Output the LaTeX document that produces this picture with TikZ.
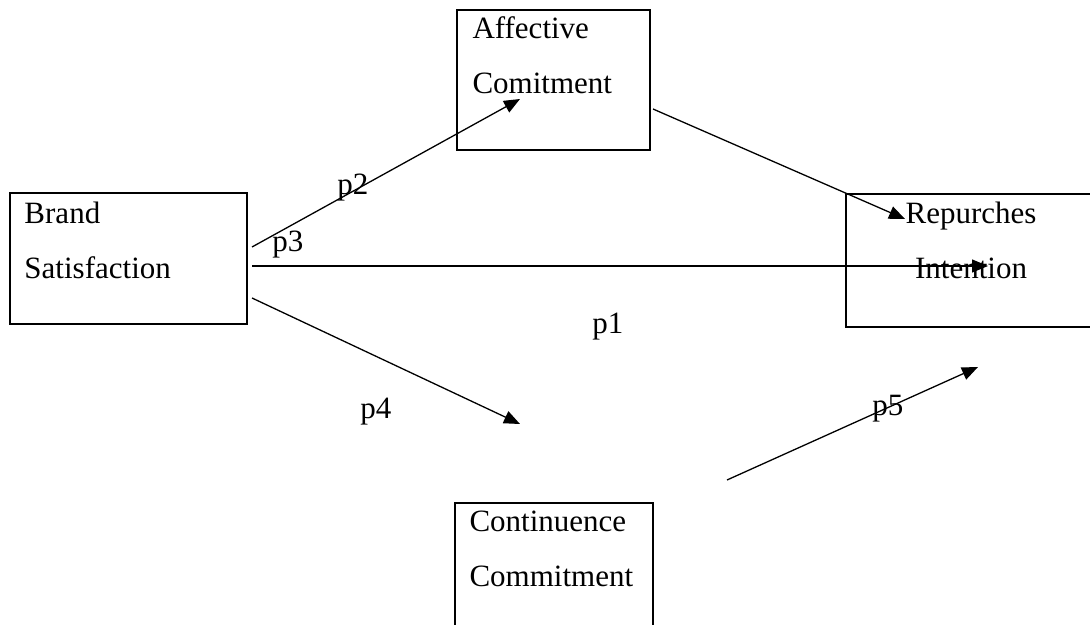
\documentclass[tikz,border=0pt]{standalone}
\usepackage{fontspec}
\setmainfont{Liberation Serif}
\usetikzlibrary{arrows.meta}

\begin{document}
\begin{tikzpicture}[
    x=0.5pt, y=-0.5pt,
    box/.style={draw, line width=0.9pt, inner sep=0pt},
    boxtext/.style={inner sep=0pt, align=left, font=\fontsize{15.5}{27.5}\selectfont},
    plabel/.style={inner sep=0pt, anchor=base west, font=\fontsize{15.5}{18}\selectfont},
    link/.style={-{Triangle[length=8pt, width=6.5pt]}, line width=0.65pt}
]
\useasboundingbox (0,0) rectangle (1090,625);

% the four boxes
\node[box, minimum width=118.5pt, minimum height=65.5pt] (brand) at (128.5,258.5) {};
\node[box, minimum width=96.5pt, minimum height=70pt] (affective) at (553.5,80) {};
\node[box, minimum width=125pt, minimum height=66.5pt] (repurch) at (971,260.5) {};
\node[box, minimum width=99pt, minimum height=71pt] (contin) at (554,574) {};

\node[boxtext, anchor=north west] (brandtxt) at ([shift={(15,9)}]brand.north west) {Brand\\Satisfaction};
\node[boxtext, anchor=north west] (affectivetxt) at ([shift={(16,7)}]affective.north west) {Affective\\Comitment};
\node[boxtext, align=center, anchor=north] (repurchtxt) at ([shift={(0,8)}]repurch.north) {Repurches\\Intention};
\node[boxtext, anchor=north west] (contintxt) at ([shift={(15,8)}]contin.north west) {Continuence\\Commitment};

% arrow ends
\coordinate (p2from) at (252,247);
\coordinate (p2to) at (520,99);
\coordinate (acfrom) at (653,109);
\coordinate (acto) at (905,219);
\coordinate (p3from) at (252,266);
\coordinate (p3to) at (988,266);
\coordinate (p4from) at (252,298);
\coordinate (p4to) at (520,424);
\coordinate (p5from) at (727,480);
\coordinate (p5to) at (978,367);

\draw[link] (p2from) -- (p2to);
\draw[link] (acfrom) -- (acto);
\draw[link] (p3from) -- (p3to);
\draw[link] (p4from) -- (p4to);
\draw[link] (p5from) -- (p5to);

% path labels
\node[plabel] (p1) at (592,333) {p1};
\node[plabel] (p2) at (337,195) {p2};
\node[plabel] (p3) at (272,252) {p3};
\node[plabel] (p4) at (360,418) {p4};
\node[plabel] (p5) at (872,415) {p5};
\end{tikzpicture}
\end{document}
